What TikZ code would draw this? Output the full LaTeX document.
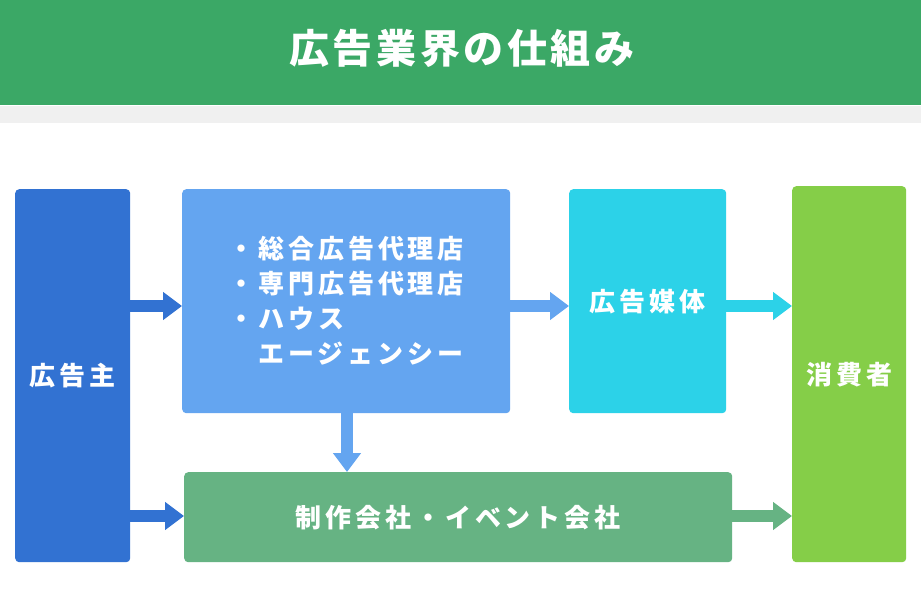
\documentclass[tikz,border=0pt]{standalone}
\usepackage{fontspec}
\usetikzlibrary{arrows.meta}
\newfontfamily\jpbody[LetterSpace=15]{Noto Sans CJK JP}
\newfontfamily\jptitle[LetterSpace=9]{Noto Sans CJK JP}
\definecolor{titlegreen}{HTML}{3BA866}
\definecolor{bandgrey}{HTML}{F0F0F0}
\definecolor{advblue}{HTML}{3272D2}
\definecolor{agblue}{HTML}{64A5F0}
\definecolor{medcyan}{HTML}{2CD2E8}
\definecolor{congreen}{HTML}{85CE48}
\definecolor{prodgreen}{HTML}{66B383}
\tikzset{
  box/.style={rounded corners=4pt, inner sep=0pt, anchor=north west, text=white,
    font=\jpbody\bfseries\fontsize{26pt}{35pt}\selectfont},
  blockarrow/.style={line width=12pt, line cap=butt,
    -{Triangle[width=27pt,length=19pt]}},
}
\begin{document}
\begin{tikzpicture}[x=1pt,y=-1pt]
\useasboundingbox (0,0) rectangle (921,610);
\fill[white] (0,0) rectangle (921,610);
% title bar
\fill[titlegreen] (0,0) rectangle (921,105);
\fill[bandgrey] (0,106) rectangle (921,123);
\node[text=white, font=\jptitle\bfseries\fontsize{40pt}{46pt}\selectfont] (title) at (462,48) {広告業界の仕組み};
% boxes
\node[box, fill=advblue, minimum width=115pt, minimum height=373pt] (adv) at (15,189) {広告主};
\node[box, fill=agblue, minimum width=328pt, minimum height=224pt, align=left] (ag) at (182,189) {・総合広告代理店\\・専門広告代理店\\・ハウス\\　エージェンシー};
\node[box, fill=medcyan, minimum width=157pt, minimum height=224pt] (med) at (569,189) {広告媒体};
\node[box, fill=congreen, minimum width=114pt, minimum height=376pt] (con) at (792,186) {消費者};
\node[box, fill=prodgreen, minimum width=548pt, minimum height=90pt] (prod) at (184,472) {制作会社・イベント会社};
% arrows
\draw[blockarrow, draw=advblue] (adv.east |- 0,306) -- (ag.west |- 0,306);
\draw[blockarrow, draw=agblue] (ag.east |- 0,306) -- (med.west |- 0,306);
\draw[blockarrow, draw=medcyan] (med.east |- 0,306) -- (con.west |- 0,306);
\draw[blockarrow, draw=agblue] (ag.south -| 347,0) -- (prod.north -| 347,0);
\draw[blockarrow, draw=advblue] (adv.east |- 0,516) -- (prod.west |- 0,516);
\draw[blockarrow, draw=prodgreen] (prod.east |- 0,516) -- (con.west |- 0,516);
\end{tikzpicture}
\end{document}
